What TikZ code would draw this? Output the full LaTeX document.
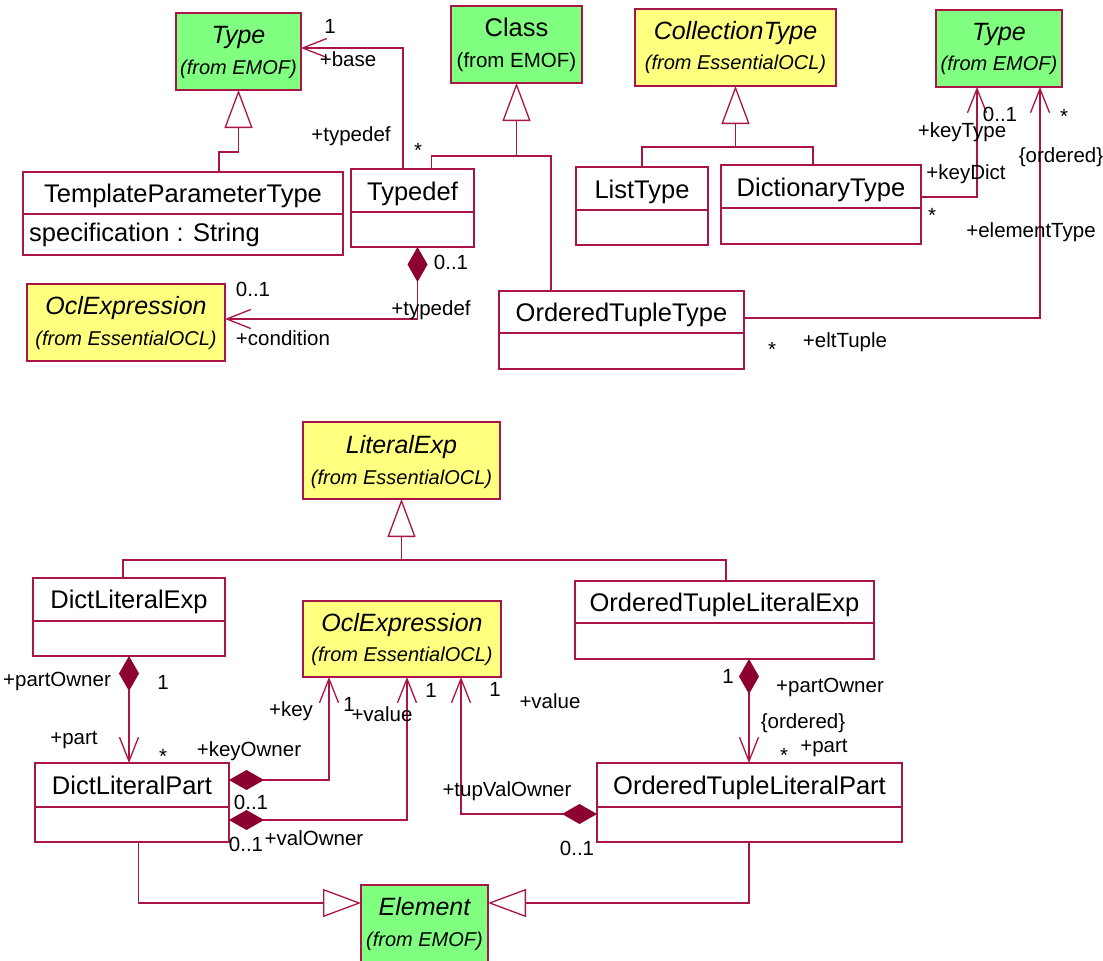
\documentclass[tikz,border=0pt]{standalone}
\usepackage{fontspec}
\setmainfont{Liberation Sans}
\usetikzlibrary{arrows.meta,calc}
\definecolor{umlred}{RGB}{170,20,70}
\definecolor{umldia}{RGB}{140,0,50}
\definecolor{umlgreen}{RGB}{128,255,128}
\definecolor{umlyellow}{RGB}{255,255,128}
\begin{document}
\begin{tikzpicture}[x=1pt,y=-1pt,
  box/.style={draw=umlred,line width=1.3pt,fill=white,anchor=north west,inner sep=0pt,outer sep=0pt},
  gbox/.style={box,fill=umlgreen},
  ybox/.style={box,fill=umlyellow},
  ctitle/.style={font=\fontsize{25.5}{30}\selectfont,inner sep=0pt,anchor=base},
  ititle/.style={font=\fontsize{25}{30}\selectfont\itshape,inner sep=0pt,anchor=base},
  isub/.style={font=\fontsize{20}{24}\selectfont\itshape,inner sep=0pt,anchor=base},
  usub/.style={font=\fontsize{20.5}{24}\selectfont,inner sep=0pt,anchor=base},
  lbl/.style={font=\fontsize{20.5}{24}\selectfont,inner sep=0pt},
  conn/.style={draw=umlred,line width=1.3pt},
  divline/.style={draw=umlred,line width=1.3pt},
  gen/.style={conn,-{Triangle[length=38pt,width=28pt,fill=white]}},
  nav/.style={conn,-{Straight Barb[length=24pt,width=19pt]}},
  comp/.style={conn,{Diamond[length=35pt,width=20pt,color=umldia]}-{Straight Barb[length=24pt,width=19pt]}},
]
\useasboundingbox (0,0) rectangle (1103,961);
\clip (0,0) rectangle (1103,961);

% ---------- boxes ----------
\node[gbox,minimum width=125pt,minimum height=77pt] (typeL) at (176,13) {};
\node[gbox,minimum width=131pt,minimum height=77pt] (class) at (451,6) {};
\node[ybox,minimum width=201pt,minimum height=77pt] (coll) at (635,9) {};
\node[gbox,minimum width=126pt,minimum height=77pt] (typeR) at (936,10) {};
\node[box,minimum width=320pt,minimum height=83pt] (tpt) at (23,172) {};
\node[box,minimum width=123pt,minimum height=78pt] (typedef) at (351,169) {};
\node[box,minimum width=132pt,minimum height=78pt] (listtype) at (576,167) {};
\node[box,minimum width=200pt,minimum height=79pt] (dicttype) at (721,165) {};
\node[ybox,minimum width=198pt,minimum height=77pt] (ocl1) at (27,284) {};
\node[box,minimum width=245pt,minimum height=78pt] (ott) at (499,291) {};
\node[ybox,minimum width=197pt,minimum height=77pt] (lit) at (303,422) {};
\node[box,minimum width=192pt,minimum height=78pt] (dle) at (33,578) {};
\node[box,minimum width=299pt,minimum height=78pt] (otle) at (575,581) {};
\node[ybox,minimum width=198pt,minimum height=76pt] (ocl2) at (303,601) {};
\node[box,minimum width=194pt,minimum height=79pt] (dlp) at (35,763) {};
\node[box,minimum width=305pt,minimum height=79pt] (otlp) at (597,763) {};
\node[gbox,minimum width=127pt,minimum height=100pt] (elem) at (361,885) {};

% ---------- compartment dividers ----------
\draw[divline] ([yshift=-42pt]tpt.north west) -- ([yshift=-42pt]tpt.north east);
\draw[divline] ([yshift=-43pt]typedef.north west) -- ([yshift=-43pt]typedef.north east);
\draw[divline] ([yshift=-43pt]listtype.north west) -- ([yshift=-43pt]listtype.north east);
\draw[divline] ([yshift=-43pt]dicttype.north west) -- ([yshift=-43pt]dicttype.north east);
\draw[divline] ([yshift=-42pt]ott.north west) -- ([yshift=-42pt]ott.north east);
\draw[divline] ([yshift=-43pt]dle.north west) -- ([yshift=-43pt]dle.north east);
\draw[divline] ([yshift=-42pt]otle.north west) -- ([yshift=-42pt]otle.north east);
\draw[divline] ([yshift=-44pt]dlp.north west) -- ([yshift=-44pt]dlp.north east);
\draw[divline] ([yshift=-44pt]otlp.north west) -- ([yshift=-44pt]otlp.north east);

% ---------- connectors (top) ----------
\draw[nav] ([xshift=-9.5pt]typedef.north) |- ([yshift=3.5pt]typeL.east);
\draw[gen] ([xshift=36pt]tpt.north) |- ([yshift=-62pt]typeL.south) -- (typeL.south);
\draw[gen] ([xshift=19pt]typedef.north) |- ([yshift=-73pt]class.south) -- (class.south);
\draw[conn] ([xshift=-70.5pt]ott.north) |- ([yshift=-73pt]class.south);
\draw[gen] (listtype.north) |- ([yshift=-61pt]coll.south) -- (coll.south);
\draw[conn] ([xshift=-8pt]dicttype.north) |- ([yshift=-61pt]coll.south);
\draw[nav] ([yshift=7.5pt]dicttype.east) -| ([xshift=-22pt]typeR.south);
\draw[nav] ([yshift=12pt]ott.east) -| ([xshift=41pt]typeR.south);
\draw[comp] ([xshift=5pt]typedef.south) |- ([yshift=3.5pt]ocl1.east);

% ---------- connectors (bottom) ----------
\draw[gen] ([xshift=-6pt]dle.north) |- ([yshift=-61pt]lit.south) -- (lit.south);
\draw[conn] ([xshift=1.5pt]otle.north) |- ([yshift=-61pt]lit.south);
\draw[comp] (dle.south) -- (dle.south |- dlp.north);
\draw[comp] ([yshift=22.5pt]dlp.east) -| ([xshift=-73pt]ocl2.south);
\draw[comp] ([yshift=-17.5pt]dlp.east) -| ([xshift=5pt]ocl2.south);
\draw[comp] ([yshift=-11.5pt]otlp.west) -| ([xshift=59pt]ocl2.south);
\draw[comp] ([xshift=24.5pt]otle.south) -- ([xshift=24.5pt]otle.south |- otlp.north);
\draw[gen] ([xshift=6.6pt]dlp.south) |- ([yshift=-18pt]elem.north west);
\draw[gen] ([xshift=-0.5pt]otlp.south) |- ([yshift=-18pt]elem.north east);

% ---------- class texts ----------
\node[ititle] (typeL-t) at ([yshift=-30.5pt]typeL.north) {Type};
\node[isub] (typeL-s) at ([yshift=-61pt]typeL.north) {(from EMOF)};
\node[ctitle] (class-t) at ([yshift=-30.5pt]class.north) {Class};
\node[usub] (class-s) at ([yshift=-61pt]class.north) {(from EMOF)};
\node[ititle] (coll-t) at ([yshift=-30.5pt]coll.north) {CollectionType};
\node[isub] (coll-s) at ([yshift=-60pt]coll.north) {(from EssentialOCL)};
\node[ititle] (typeR-t) at ([yshift=-30.5pt]typeR.north) {Type};
\node[isub] (typeR-s) at ([yshift=-60pt]typeR.north) {(from EMOF)};
\node[ctitle] (tpt-t) at ([yshift=-30pt]tpt.north) {TemplateParameterType};
\node[ctitle,anchor=base west] (tpt-a) at ([xshift=6pt,yshift=-69pt]tpt.north west) {specification : String};
\node[ctitle] (typedef-t) at ([yshift=-31pt]typedef.north) {Typedef};
\node[ctitle] (listtype-t) at ([yshift=-31pt]listtype.north) {ListType};
\node[ctitle] (dicttype-t) at ([yshift=-31pt]dicttype.north) {DictionaryType};
\node[ititle] (ocl1-t) at ([yshift=-30.5pt]ocl1.north) {OclExpression};
\node[isub] (ocl1-s) at ([yshift=-61pt]ocl1.north) {(from EssentialOCL)};
\node[ctitle] (ott-t) at ([yshift=-30.5pt]ott.north) {OrderedTupleType};
\node[ititle] (lit-t) at ([yshift=-31pt]lit.north) {LiteralExp};
\node[isub] (lit-s) at ([yshift=-62pt]lit.north) {(from EssentialOCL)};
\node[ctitle] (dle-t) at ([yshift=-30.5pt]dle.north) {DictLiteralExp};
\node[ctitle] (otle-t) at ([yshift=-30.5pt]otle.north) {OrderedTupleLiteralExp};
\node[ititle] (ocl2-t) at ([yshift=-30pt]ocl2.north) {OclExpression};
\node[isub] (ocl2-s) at ([yshift=-60pt]ocl2.north) {(from EssentialOCL)};
\node[ctitle] (dlp-t) at ([yshift=-31pt]dlp.north) {DictLiteralPart};
\node[ctitle] (otlp-t) at ([yshift=-31pt]otlp.north) {OrderedTupleLiteralPart};
\node[ititle] (elem-t) at ([yshift=-30.5pt]elem.north) {Element};
\node[isub] (elem-s) at ([yshift=-61pt]elem.north) {(from EMOF)};

% ---------- role / multiplicity labels (top) ----------
\node[lbl] (l1) at (330,26) {1};
\node[lbl] (l2) at (348,59) {+base};
\node[lbl] (l3) at (351,136) {+typedef};
\node[lbl] (l4) at (418,150) {*};
\node[lbl] (l5) at (451,262) {0..1};
\node[lbl] (l6) at (253,289) {0..1};
\node[lbl] (l7) at (431,310) {+typedef};
\node[lbl] (l8) at (283,338) {+condition};
\node[lbl] (l9) at (1000,114) {0..1};
\node[lbl] (l10) at (962,132) {+keyType};
\node[lbl] (l11) at (966,174) {+keyDict};
\node[lbl] (l12) at (932,215) {*};
\node[lbl] (l13) at (1064,116) {*};
\node[lbl] (l14) at (1061,157) {\{ordered\}};
\node[lbl] (l15) at (1031,232) {+elementType};
\node[lbl] (l16) at (772,349) {*};
\node[lbl] (l17) at (845,342) {+eltTuple};

% ---------- role / multiplicity labels (bottom) ----------
\node[lbl] (m1) at (57,681) {+partOwner};
\node[lbl] (m2) at (163,682) {1};
\node[lbl] (m3) at (74,740) {+part};
\node[lbl] (m4) at (163,756) {*};
\node[lbl] (m5) at (291,711) {+key};
\node[lbl] (m6) at (349,704) {1};
\node[lbl] (m7) at (382,714) {+value};
\node[lbl] (m8) at (249,751) {+keyOwner};
\node[lbl] (m9) at (251,802) {0..1};
\node[lbl] (m10) at (246,844) {0..1};
\node[lbl] (m11) at (314,838) {+valOwner};
\node[lbl] (m12) at (431,690) {1};
\node[lbl] (m13) at (495,689) {1};
\node[lbl] (m14) at (550,701) {+value};
\node[lbl] (m15) at (507,791) {+tupValOwner};
\node[lbl] (m16) at (577,848) {0..1};
\node[lbl] (m17) at (728,676) {1};
\node[lbl] (m18) at (830,687) {+partOwner};
\node[lbl] (m19) at (803,723) {\{ordered\}};
\node[lbl] (m20) at (784,755) {*};
\node[lbl] (m21) at (824,748) {+part};
\end{tikzpicture}
\end{document}
